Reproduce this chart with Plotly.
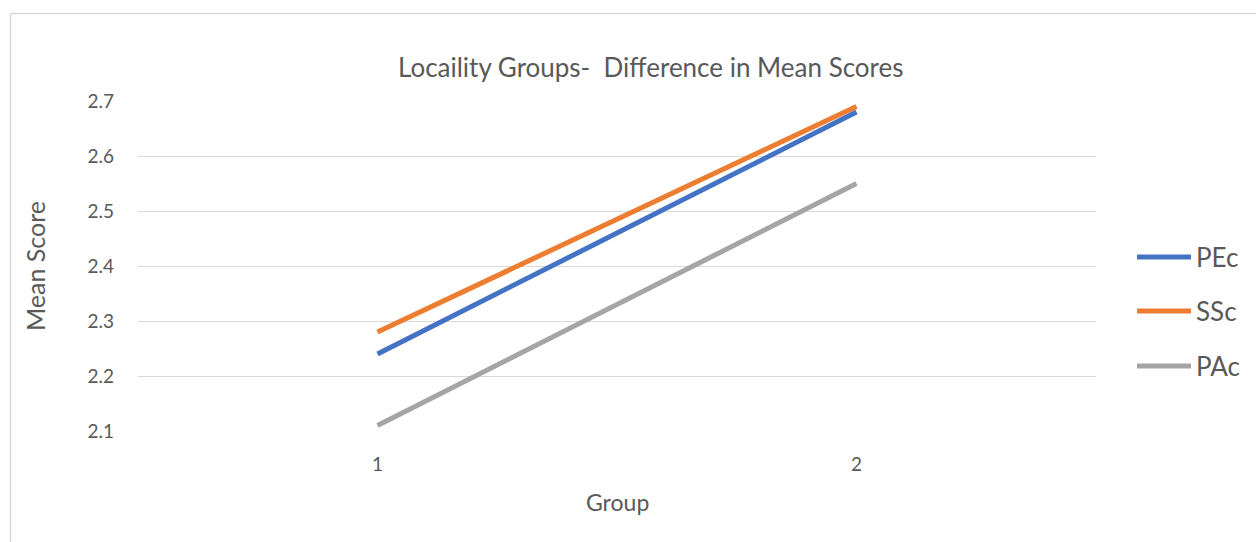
import plotly.graph_objects as go

# Mean scores per locality group
groups = [1, 2]
series_names = ["PEc", "SSc", "PAc"]
pec = [2.24, 2.68]
ssc = [2.28, 2.69]
pac = [2.11, 2.55]
y_ticks = [2.1, 2.2, 2.3, 2.4, 2.5, 2.6, 2.7]

colors = ["#4472C4", "#ED7D31", "#A5A5A5"]
text_color = "#595959"
grid_color = "#D9D9D9"
font_family = "Lato, 'Open Sans', sans-serif"

W, H = 1256, 542
L, R, T, B = 138, 160, 101, 111
plot_w = W - L - R
plot_h = H - T - B


def px_x(px):
    return (px - L) / plot_w


def px_y(py):
    return (H - B - py) / plot_h


fig = go.Figure()
for name, vals, col in zip(series_names, [pec, ssc, pac], colors):
    fig.add_trace(go.Scatter(
        x=groups, y=vals, mode="lines", name=name,
        line=dict(color=col, width=5),
        showlegend=False, hoverinfo="x+y+name",
    ))

# Legend drawn by hand so the sample lines are long
legend_y = [257, 311, 366]
shapes = []
annotations = []
for name, col, ly in zip(series_names, colors, legend_y):
    shapes.append(dict(type="line", xref="paper", yref="paper",
                       x0=px_x(1137), x1=px_x(1191), y0=px_y(ly), y1=px_y(ly),
                       line=dict(color=col, width=5)))
    annotations.append(dict(text=name, xref="paper", yref="paper",
                            x=px_x(1194), y=px_y(ly), xanchor="left", yanchor="middle",
                            showarrow=False, font=dict(size=26, color=text_color, family=font_family)))

# Chart-area border (left and top edges visible)
shapes.append(dict(type="line", xref="paper", yref="paper",
                   x0=px_x(10.5), x1=px_x(10.5), y0=px_y(13.5), y1=px_y(560),
                   line=dict(color=grid_color, width=1.5)))
shapes.append(dict(type="line", xref="paper", yref="paper",
                   x0=px_x(10.5), x1=px_x(1300), y0=px_y(13.5), y1=px_y(13.5),
                   line=dict(color=grid_color, width=1.5)))

# Chart title
annotations.append(dict(text="Locaility Groups-  Difference in Mean Scores",
                        xref="paper", yref="paper", x=px_x(651), y=px_y(67),
                        xanchor="center", yanchor="middle", showarrow=False,
                        font=dict(size=26, color=text_color, family=font_family)))
# Axis titles
annotations.append(dict(text="Group", xref="paper", yref="paper",
                        x=px_x(617), y=px_y(502), xanchor="center", yanchor="middle",
                        showarrow=False, font=dict(size=23, color=text_color, family=font_family)))
annotations.append(dict(text="Mean Score", xref="paper", yref="paper", textangle=-90,
                        x=px_x(35), y=px_y(266), xanchor="center", yanchor="middle",
                        showarrow=False, font=dict(size=25, color=text_color, family=font_family)))

fig.update_layout(
    width=W, height=H,
    margin=dict(l=L, r=R, t=T, b=B, pad=0),
    paper_bgcolor="white", plot_bgcolor="white",
    font=dict(family=font_family, color=text_color),
    shapes=shapes, annotations=annotations,
    xaxis=dict(
        range=[0.5, 2.5], tickvals=groups, ticktext=[str(g) for g in groups],
        showgrid=False, zeroline=False, showline=False, ticks="",
        ticklabelstandoff=20,
        tickfont=dict(size=19, color=text_color),
    ),
    yaxis=dict(
        range=[2.1, 2.7], tickvals=y_ticks, ticktext=[f"{v:.1f}" for v in y_ticks],
        showgrid=True, gridcolor=grid_color, gridwidth=1, zeroline=False,
        showline=False, ticks="", ticklabelstandoff=23,
        tickfont=dict(size=19, color=text_color),
    ),
)
fig.update_xaxes(automargin=False)
fig.update_yaxes(automargin=False)

fig.write_html("out.html")
